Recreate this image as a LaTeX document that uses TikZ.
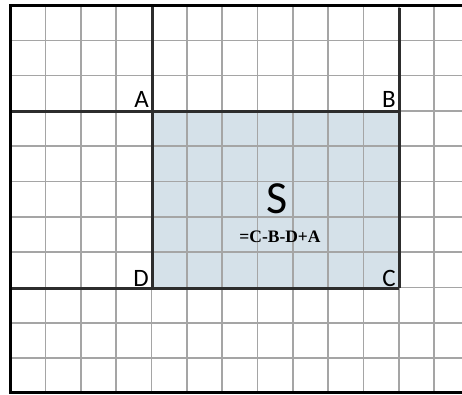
\documentclass[tikz,border=0pt]{standalone}
\usepackage{fontspec}
\setmainfont{Liberation Serif}
\newfontfamily\lblfont{Carlito}
\definecolor{gridgray}{RGB}{165,165,165}
\definecolor{darkline}{RGB}{45,45,45}
\definecolor{sfill}{RGB}{213,225,233}
\begin{document}
\begin{tikzpicture}[x=1pt,y=-1pt,
  gridline/.style={draw=gridgray,line width=1.6pt},
  thickline/.style={draw=darkline,line width=2.4pt},
  border/.style={draw=black,line width=3pt},
  corner/.style={font=\lblfont\fontsize{25}{25}\selectfont,inner sep=0pt,anchor=base east},
]
\useasboundingbox (0,0) rectangle (462,394);
\fill[white] (0,0) rectangle (462,394);
% shaded region
\fill[sfill] (152.5,111.3) rectangle (399.3,288.3);
% grid
\begin{scope}
\clip (10,5) rectangle (462,392.5);
\foreach \i in {1,...,12} {
  \draw[gridline] ({10+35.35*\i},0) -- ({10+35.35*\i},394);
}
\foreach \j in {1,...,10} {
  \draw[gridline] (0,{5+35.3*\j}) -- (462,{5+35.3*\j});
}
\end{scope}
% thick lines
\coordinate (A) at (152.5,111.3);
\coordinate (B) at (399.3,111.3);
\coordinate (C) at (399.3,288.3);
\coordinate (D) at (152.5,288.3);
\coordinate (Atop) at (152.5,5);
\coordinate (Btop) at (399.3,8);
\coordinate (Aleft) at (10,111.3);
\coordinate (Dleft) at (10,288.3);
\draw[thickline] (Atop) -- (D);
\draw[thickline] (Btop) -- (C);
\draw[thickline] (Aleft) -- (B);
\draw[thickline] (Dleft) -- (C);
% borders
\draw[border] (462,5) -- (10,5) -- (10,392.5) -- (462,392.5);
% labels
\node[corner] (la) at (149,107.5) {A};
\node[corner] (lb) at (396,107.5) {B};
\node[corner] (ld) at (149,286.5) {D};
\node[corner] (lc) at (396,286.5) {C};
\node[font=\lblfont\fontsize{46}{46}\selectfont,inner sep=0pt,anchor=base] (s) at (277.5,213) {S};
\node[font=\bfseries\fontsize{17.5}{17.5}\selectfont,inner sep=0pt,anchor=base] (f) at (280,242.5) {=C-B-D+A};
\end{tikzpicture}
\end{document}
